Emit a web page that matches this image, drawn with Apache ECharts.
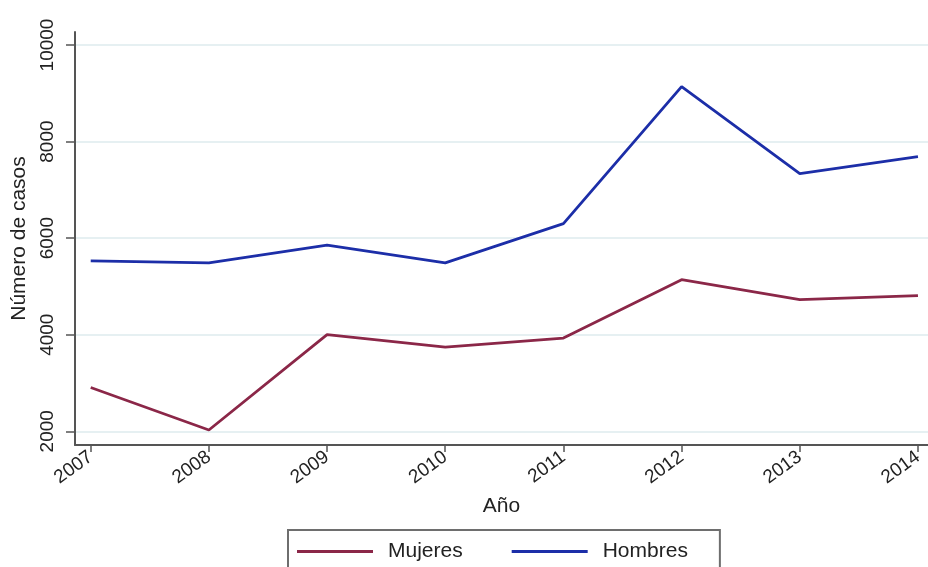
<!DOCTYPE html>
<html>
<head>
<meta charset="utf-8">
<script src="https://cdn.jsdelivr.net/npm/echarts@6/dist/echarts.min.js"></script>
<style>
html,body{margin:0;padding:0;background:#fff;}
#c{width:928px;height:567px;}
</style>
</head>
<body>
<div id="c"></div>
<script>
const years = [2007, 2008, 2009, 2010, 2011, 2012, 2013, 2014];
const mujeres = [2906, 2027, 4000, 3744, 3931, 5139, 4725, 4808];
const hombres = [5530, 5489, 5855, 5489, 6299, 9139, 7337, 7689];
const yTicks = [2000, 4000, 6000, 8000, 10000];
const seriesNames = ['Mujeres', 'Hombres'];
const xTitle = 'Año';
const yTitle = 'Número de casos';

const font = 'Liberation Sans, Arial, Helvetica, sans-serif';
const axisColor = '#555555';

const chart = echarts.init(document.getElementById('c'), null, {renderer: 'canvas'});
chart.setOption({
  backgroundColor: '#ffffff',
  animation: false,
  grid: {left: 75, right: 0, top: 32, bottom: 122, outerBoundsMode: 'none', containLabel: false},
  xAxis: {
    type: 'value',
    min: 2006.867,
    max: 2014.085,
    name: xTitle,
    nameLocation: 'middle',
    nameGap: 51,
    nameTextStyle: {fontFamily: font, fontSize: 21, color: '#222', verticalAlign: 'top'},
    axisLine: {show: true, onZero: false, lineStyle: {color: axisColor, width: 2}},
    axisTick: {show: true, customValues: years, length: 7, lineStyle: {color: axisColor, width: 1.5}},
    axisLabel: {
      customValues: years, rotate: 36, margin: 10,
      fontFamily: font, fontSize: 19, color: '#222',
      formatter: v => String(Math.round(v))
    },
    splitLine: {show: false}
  },
  yAxis: {
    type: 'value',
    min: 1716,
    max: 10269,
    name: yTitle,
    nameLocation: 'middle',
    nameGap: 43,
    nameRotate: 90,
    nameTextStyle: {fontFamily: font, fontSize: 21, color: '#222'},
    axisLine: {show: true, onZero: false, lineStyle: {color: axisColor, width: 2}},
    axisTick: {show: true, customValues: yTicks, length: 9, lineStyle: {color: axisColor, width: 1.5}},
    axisLabel: {
      customValues: yTicks, rotate: 90, margin: 18,
      fontFamily: font, fontSize: 19, color: '#222',
      formatter: v => String(Math.round(v))
    },
    splitLine: {show: true, lineStyle: {color: '#e6f0f2', width: 2}}
  },
  legend: {
    show: true,
    left: 288,
    top: 530,
    orient: 'horizontal',
    data: seriesNames,
    icon: 'rect',
    itemWidth: 76,
    itemHeight: 3,
    itemGap: 49,
    padding: [11, 32, 30, 9],
    borderColor: '#6e6e6e',
    borderWidth: 2,
    backgroundColor: '#fff',
    textStyle: {fontFamily: font, fontSize: 21, color: '#222', padding: [0, 0, 0, 10]}
  },
  series: [
    {
      name: seriesNames[0], type: 'line', symbol: 'none', color: '#8b2748',
      lineStyle: {color: '#8b2748', width: 2.8},
      data: years.map((y, i) => [y, mujeres[i]])
    },
    {
      name: seriesNames[1], type: 'line', symbol: 'none', color: '#1c2ea8',
      lineStyle: {color: '#1c2ea8', width: 2.8},
      data: years.map((y, i) => [y, hombres[i]])
    }
  ]
});
</script>
</body>
</html>
